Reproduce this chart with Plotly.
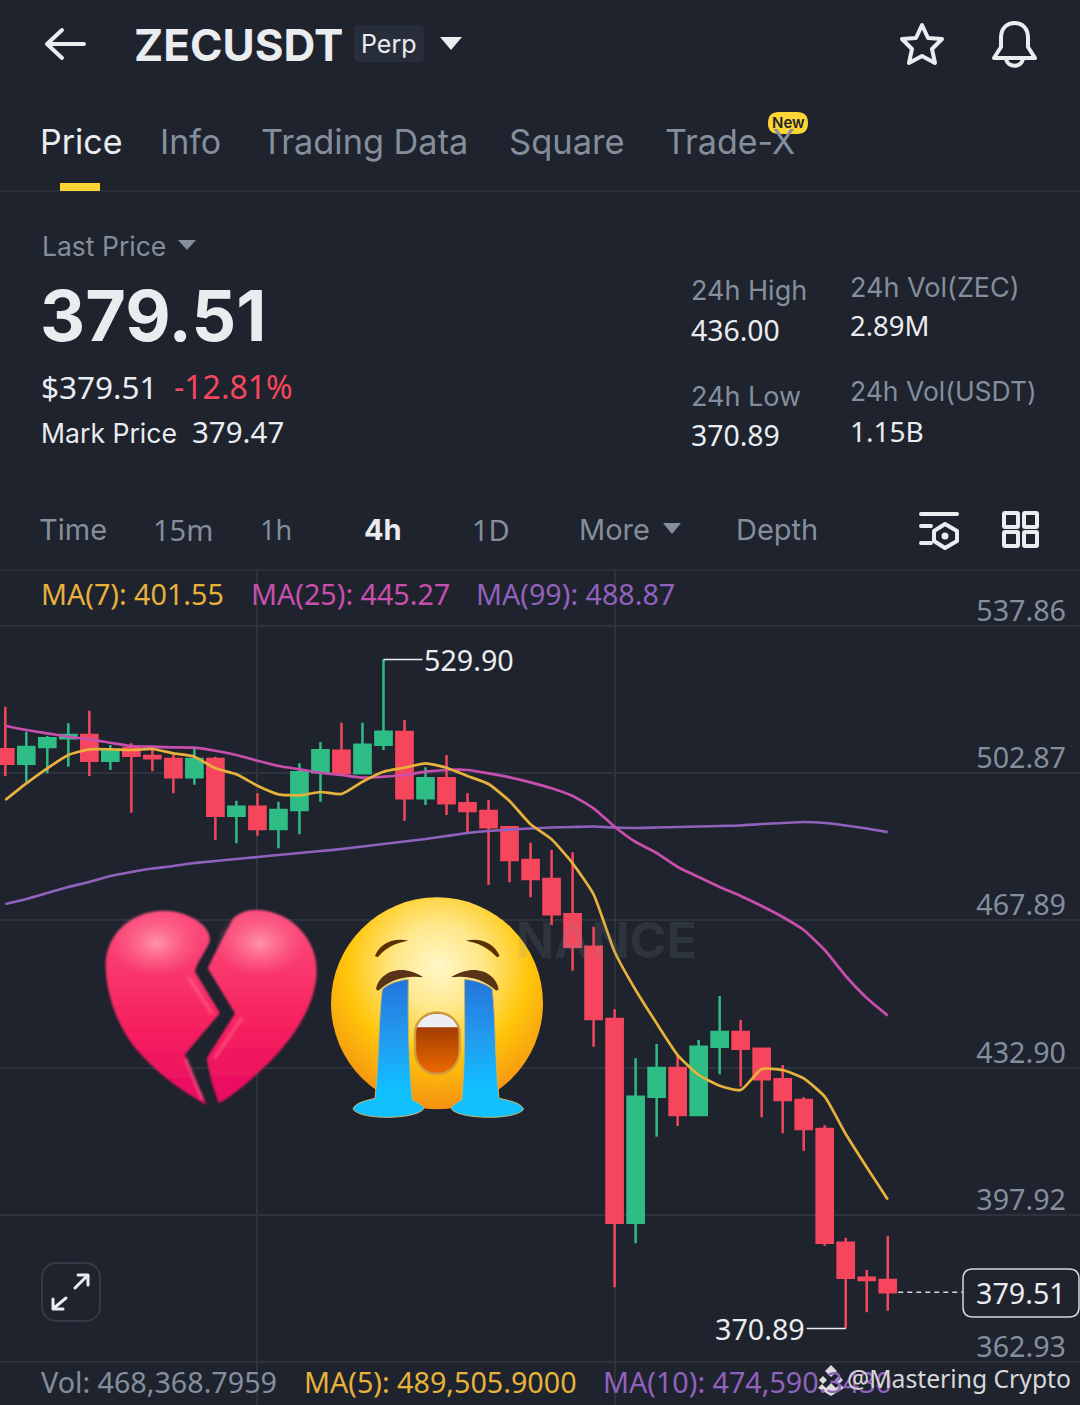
import base64
import plotly.graph_objects as go

W, H = 1080, 1405
BG = "#1e232d"
GRID = "#2d323d"
LIGHT = "#eaecef"
GRAY = "#848e9c"
GREEN = "#2ebd85"
RED = "#f6465d"
YELLOW = "#e8b13b"
PINK = "#c94fae"
PURPLE = "#9162bd"
UI_FONT = "Inter"
NUM_FONT = "Noto Sans"

# candles, oldest first
open_prices = [508.56, 505.13, 509.10, 511.17, 511.95, 505.85, 508.79, 506.96, 506.25, 501.90,
               506.25, 492.77, 494.91, 489.61, 494.13, 503.09, 508.22, 502.85, 509.65, 512.67,
               496.91, 501.66, 495.72, 493.89, 490.02, 482.25, 477.73, 469.34, 461.64, 444.46,
               396.04, 425.99, 432.81, 421.64, 437.87, 441.37, 437.40, 430.12, 425.20, 418.31,
               391.29, 382.97, 382.42]
high_prices = [518.68, 512.74, 511.72, 514.73, 517.73, 509.58, 509.98, 508.79, 507.20, 509.17,
               506.80, 496.34, 498.10, 496.10, 505.23, 510.29, 514.88, 514.88, 529.90, 515.52,
               504.28, 507.20, 498.10, 496.51, 490.16, 486.36, 484.62, 484.08, 466.39, 446.76,
               435.12, 438.51, 435.90, 439.46, 449.92, 444.22, 437.40, 433.52, 425.85, 419.19,
               392.48, 384.80, 392.88]
low_prices = [502.21, 500.85, 502.85, 504.42, 502.21, 503.64, 493.49, 503.33, 498.10, 500.14,
              487.00, 486.21, 488.02, 485.03, 488.35, 496.10, 502.45, 502.60, 508.39, 491.59,
              495.32, 492.94, 488.73, 476.30, 476.95, 473.38, 466.80, 455.94, 437.87, 380.69,
              391.15, 416.48, 419.02, 421.40, 431.31, 428.37, 421.09, 417.29, 413.15, 390.58,
              370.89, 374.75, 375.13]
close_prices = [505.13, 509.10, 511.17, 511.95, 505.85, 508.39, 507.03, 506.42, 501.90, 506.25,
                492.77, 494.91, 489.61, 494.13, 503.09, 508.32, 502.85, 509.65, 512.74, 496.91,
                501.66, 495.72, 493.89, 490.02, 482.25, 477.73, 469.34, 461.64, 444.46, 396.04,
                425.99, 432.81, 421.64, 437.87, 441.37, 437.40, 430.12, 425.20, 418.31, 391.29,
                382.97, 382.42, 379.51]
ma7 = [496.51, 500.47, 504.04, 507.20, 508.56, 508.56, 508.39, 508.63, 507.60, 506.80,
       504.04, 502.61, 499.90, 497.86, 497.62, 498.41, 497.93, 500.85, 503.23, 504.18,
       505.23, 504.18, 502.21, 500.31, 496.27, 490.73, 487.16, 481.46, 474.09, 460.45,
       451.35, 443.44, 435.90, 431.15, 428.60, 427.58, 432.57, 432.33, 430.36, 425.99,
       417.12, 409.21, 401.55]
ma25 = [514.16, 513.14, 512.36, 511.55, 510.93, 510.12, 509.34, 509.17, 509.03, 508.94,
        508.22, 507.20, 505.85, 504.59, 503.80, 502.99, 502.45, 501.81, 502.04, 502.45,
        503.23, 503.64, 503.64, 502.85, 501.90, 500.71, 499.29, 497.46, 494.53, 490.16,
        486.52, 483.91, 480.58, 478.20, 475.83, 473.69, 471.31, 468.70, 465.61, 460.85,
        454.68, 449.45, 445.27]
ma99 = [471.79, 472.98, 474.40, 475.83, 477.02, 478.44, 479.39, 480.23, 480.82, 481.53,
        482.01, 482.48, 482.96, 483.43, 483.91, 484.38, 484.86, 485.45, 486.05, 486.64,
        487.24, 487.95, 488.66, 489.14, 489.49, 489.73, 489.97, 490.09, 490.21, 489.97,
        489.85, 489.97, 490.09, 490.21, 490.33, 490.45, 490.80, 491.04, 491.28, 491.04,
        490.45, 489.73, 488.87]
candle_idx = list(range(len(open_prices)))
price_ticks = [537.86, 502.87, 467.89, 432.90, 397.92, 362.93]
time_ticks = [12, 29]
last_price = 379.51


def px(x):
    return x / W


def py(y):
    return 1 - y / H


def svg_uri(svg):
    return "data:image/svg+xml;base64," + base64.b64encode(svg.encode()).decode()


def picture(svg, x, y, w, h):
    return dict(source=svg_uri(svg), xref="paper", yref="paper", x=px(x), y=py(y),
                sizex=w / W, sizey=h / H, xanchor="left", yanchor="top",
                sizing="stretch", layer="above")


def label(txt, x, y, size, color=LIGHT, anchor="left", family=UI_FONT, weight=400):
    # glyphs sit about 2px right of the box edge
    if anchor == "left":
        x = x - 2
    # noto sits a bit low
    if family == NUM_FONT:
        y = y - 2
    return dict(text=txt, xref="paper", yref="paper", x=px(x), y=py(y), showarrow=False,
                xanchor=anchor, yanchor="middle", borderpad=0,
                font=dict(family=family, size=size, color=color, weight=weight))


def box(x0, y0, x1, y1, fill, line_color=None, r=0):
    path = (f"M{px(x0 + r)},{py(y0)} L{px(x1 - r)},{py(y0)} Q{px(x1)},{py(y0)} {px(x1)},{py(y0 + r)} "
            f"L{px(x1)},{py(y1 - r)} Q{px(x1)},{py(y1)} {px(x1 - r)},{py(y1)} "
            f"L{px(x0 + r)},{py(y1)} Q{px(x0)},{py(y1)} {px(x0)},{py(y1 - r)} "
            f"L{px(x0)},{py(y0 + r)} Q{px(x0)},{py(y0)} {px(x0 + r)},{py(y0)} Z")
    return dict(type="path", xref="paper", yref="paper", path=path, fillcolor=fill,
                line=dict(color=line_color or fill, width=1.5 if line_color else 0))


def rule(y):
    return dict(type="line", xref="paper", yref="paper", x0=0, x1=1, y0=py(y), y1=py(y),
                line=dict(color=GRID, width=1.5))


heart_svg = """<svg xmlns="http://www.w3.org/2000/svg" viewBox="0 0 690 690">
<defs>
<linearGradient id="b" x1="0" y1="0" x2="0" y2="1"><stop offset="0" stop-color="#fb4f7e"/><stop offset="0.6" stop-color="#f7205f"/><stop offset="1" stop-color="#e80a62"/></linearGradient>
<radialGradient id="g" cx="0.5" cy="0.5" r="0.5"><stop offset="0" stop-color="#ff9aa8" stop-opacity="0.95"/><stop offset="1" stop-color="#ff6f90" stop-opacity="0"/></radialGradient>
<filter id="s"><feGaussianBlur stdDeviation="5"/></filter>
<filter id="e"><feGaussianBlur stdDeviation="2.5"/></filter>
</defs>
<g filter="url(#e)">
<path fill="url(#b)" d="M200 62 C270 60 345 100 345 150 C340 175 305 215 300 245 L375 370 C340 410 290 470 270 495 C290 550 320 610 335 645 C270 610 150 530 90 430 C50 360 30 280 32 215 C40 120 120 65 200 62 Z"/>
<path fill="url(#b)" d="M480 60 C590 60 665 150 665 240 C665 340 600 440 520 520 C470 570 410 620 372 640 C355 600 340 540 335 505 L420 370 L338 235 C360 190 395 120 415 85 C430 70 455 60 480 60 Z"/>
</g>
<ellipse cx="185" cy="160" rx="135" ry="100" fill="url(#g)"/>
<ellipse cx="495" cy="160" rx="135" ry="100" fill="url(#g)"/>
<path filter="url(#s)" d="M280 262 L352 372 M272 505 L322 630 M442 382 L358 505" stroke="#ff7f96" stroke-width="9" fill="none" opacity="0.5"/>
</svg>"""

cry_svg = """<svg xmlns="http://www.w3.org/2000/svg" viewBox="0 0 690 705">
<defs>
<radialGradient id="f" gradientUnits="userSpaceOnUse" cx="340" cy="230" r="440"><stop offset="0" stop-color="#fff8c8"/><stop offset="0.3" stop-color="#ffe788"/><stop offset="0.62" stop-color="#ffc60a"/><stop offset="1" stop-color="#f48d12"/></radialGradient>
<linearGradient id="t" gradientUnits="userSpaceOnUse" x1="0" y1="270" x2="0" y2="600"><stop offset="0" stop-color="#2374dc"/><stop offset="0.5" stop-color="#2399ee"/><stop offset="1" stop-color="#10c0ff"/></linearGradient>
<linearGradient id="m" x1="0" y1="0" x2="0" y2="1"><stop offset="0" stop-color="#8a2f00"/><stop offset="1" stop-color="#ee6a00"/></linearGradient>
</defs>
<circle cx="336" cy="340" r="318" fill="url(#f)"/>
<path fill="#5a3200" d="M150 198 C165 160 205 142 250 152 C210 158 180 175 158 202 Z M524 198 C508 160 468 142 422 152 C462 158 492 175 516 202 Z"/>
<path fill="#5a3418" d="M153 298 C160 250 225 215 295 262 C240 255 195 270 160 302 Z M521 298 C514 250 450 215 378 262 C432 255 478 270 514 302 Z"/>
<path fill="url(#t)" stroke="#c9b56a" stroke-width="3" d="M172 298 C190 280 225 270 250 268 C248 400 252 530 262 630 C285 640 300 650 295 658 C270 688 110 692 84 658 C88 638 130 630 150 625 C162 520 160 390 172 298 Z"/>
<path fill="url(#t)" stroke="#c9b56a" stroke-width="3" d="M502 298 C484 280 445 270 418 268 C420 400 420 530 410 630 C390 640 376 650 380 658 C405 688 570 692 596 658 C590 638 545 630 522 625 C510 520 512 390 502 298 Z"/>
<path fill="url(#m)" stroke="#d39b3c" stroke-width="7" d="M270 430 C270 395 300 367 336 367 C372 367 404 395 404 430 L404 480 C404 525 372 552 336 552 C300 552 270 525 270 480 Z"/>
<path fill="#eceef2" d="M276 412 C285 385 310 371 336 371 C364 371 388 385 398 412 Z"/>
</svg>"""

icons_svg = """<svg xmlns="http://www.w3.org/2000/svg" viewBox="0 0 1080 1405">
<g fill="none" stroke="#eaecef" stroke-width="4" stroke-linecap="round" stroke-linejoin="round">
<path d="M84 44 H47 M62 30 L47 44 L62 58"/>
<path d="M922 25 L928 38 L942 39 L932 49 L935 63 L922 56 L909 63 L912 49 L902 39 L916 38 Z"/>
<path d="M994 58 L1001 47 L1001 38 C1001 27 1008 23 1014.5 23 C1021 23 1028 27 1028 38 L1028 47 L1035 58 Z M1006 59 C1008 68 1021 68 1023 59"/>
<path d="M921 514 H957 M921 526 H931 M921 543 H931"/>
<path d="M945 524 L957 531 L957 541 L945 548 L934 541 L934 531 Z"/>
<rect x="1004" y="513" width="14" height="14" rx="1"/><rect x="1024" y="513" width="13" height="14" rx="1"/>
<rect x="1004" y="532" width="14" height="14" rx="1"/><rect x="1024" y="532" width="13" height="14" rx="1"/>
<path stroke-width="3" d="M75 1288 L87 1276 M78 1275 H88 V1285 M66 1298 L54 1308 M53 1299 V1309 H63"/>
</g>
<circle cx="945" cy="536" r="3.5" fill="#eaecef"/>
<path fill="#eaecef" d="M440 37 H462 L451 50 Z"/>
<path fill="#848e9c" d="M178 240 H196 L187 250 Z M663 523 H681 L672 534 Z"/>
<rect x="42" y="1263" width="58" height="58" rx="14" fill="none" stroke="#343a46" stroke-width="2"/>
<g fill="#dcdcdc"><path d="M831 1365 L837 1371 L831 1377 L825 1371 Z M819 1380 L823 1376 L827 1380 L823 1384 Z M835 1380 L839 1376 L843 1380 L839 1384 Z"/><path d="M831 1383 L836 1388 L840 1384 L844 1388 L831 1396 L818 1388 L822 1384 L826 1388 Z"/></g>
</svg>"""

fig = go.Figure()
fig.add_trace(go.Candlestick(x=candle_idx, open=open_prices, high=high_prices, low=low_prices,
                             close=close_prices, whiskerwidth=0, showlegend=False, hoverinfo="skip",
                             increasing=dict(line=dict(color=GREEN, width=2.5), fillcolor=GREEN),
                             decreasing=dict(line=dict(color=RED, width=2.5), fillcolor=RED)))
for values, color in [(ma99, PURPLE), (ma25, PINK), (ma7, YELLOW)]:
    fig.add_trace(go.Scatter(x=candle_idx, y=values, mode="lines", showlegend=False, hoverinfo="skip",
                             line=dict(color=color, width=2.7, shape="spline", smoothing=0.5)))

shapes = [
    rule(191), rule(570),
    box(60, 183, 100, 191, "#fcd535"),
    box(354, 25, 424, 62, "#282e39", r=5),
    box(768, 112, 808, 134, "#fcd535", r=11),
    dict(type="line", xref="x", yref="y", x0=candle_idx[-1] + 0.5, x1=45.6, y0=last_price, y1=last_price,
         line=dict(color="#d5d7da", width=1.5, dash="5px,4px")),
    box(963, 1269, 1079, 1317, BG, "#d5d7da", r=10),
]

annotations = [
    label("ZECUSDT", 135, 45, 44, weight=700),
    label("Perp", 362, 44, 25),
    label("Price", 41, 142, 34),
    label("Info", 161, 142, 34, GRAY),
    label("Trading Data", 262, 142, 34.3, GRAY),
    label("Square", 510, 142, 34.5, GRAY),
    label("Trade-X", 666, 142, 34, GRAY),
    label("New", 788, 123, 15, "#1e232d", anchor="center", weight=600),
    label("Last Price", 43, 246, 26.5, GRAY),
    label(f"{last_price:.2f}", 41, 315, 70, weight=700),
    label(f"${last_price:.2f}", 42, 388, 31.5, family=NUM_FONT),
    label("-12.81%", 175, 388, 32, RED, family=NUM_FONT),
    label("Mark Price", 42, 433, 26.6),
    label("379.47", 193, 433, 29.5, family=NUM_FONT),
    label("24h High", 692, 291, 27, GRAY),
    label("436.00", 692, 332, 28.4, family=NUM_FONT),
    label("24h Low", 692, 396, 27, GRAY),
    label("370.89", 692, 437, 28.4, family=NUM_FONT),
    label("24h Vol(ZEC)", 851, 287, 27, GRAY),
    label("2.89M", 851, 328, 27.5, family=NUM_FONT),
    label("24h Vol(USDT)", 851, 391, 26.5, GRAY),
    label("1.15B", 851, 433, 28, family=NUM_FONT),
    label("Time", 40, 529, 29, GRAY),
    label("15m", 154, 531, 29, GRAY, family=NUM_FONT),
    label("1h", 261, 531, 27, GRAY, family=NUM_FONT),
    label("4h", 365, 529, 29, weight=700),
    label("1D", 473, 531, 29, GRAY, family=NUM_FONT),
    label("More", 580, 529, 29, GRAY),
    label("Depth", 737, 529, 29, GRAY),
    label("MA(7): 401.55", 42, 595, 28.7, YELLOW, family=NUM_FONT),
    label("MA(25): 445.27", 252, 595, 28.7, PINK, family=NUM_FONT),
    label("MA(99): 488.87", 477, 595, 28.7, PURPLE, family=NUM_FONT),
    label("NANCE", 517, 940, 50, "rgba(132,142,156,0.16)", family=UI_FONT, weight=700),
    label(f"{last_price:.2f}", 1021, 1294, 28.7, anchor="center", family=NUM_FONT),
    label("Vol: 468,368.7959", 42, 1383, 28.7, GRAY, family=NUM_FONT),
    label("MA(5): 489,505.9000", 305, 1383, 28.7, YELLOW, family=NUM_FONT),
    label("MA(10): 474,590.3430", 604, 1383, 28.7, PURPLE, family=NUM_FONT),
    label("@Mastering Crypto", 1072, 1380, 24.7, "#d8d8d8", anchor="right", family=NUM_FONT),
    dict(x=candle_idx[18], y=max(high_prices), text=f"{max(high_prices):.2f}", ax=39, ay=0, xanchor="left",
         arrowhead=0, arrowwidth=1.5, arrowcolor=LIGHT, standoff=0, font=dict(family=NUM_FONT, size=28.7, color=LIGHT)),
    dict(x=candle_idx[40], y=min(low_prices), text=f"{min(low_prices):.2f}", ax=-39, ay=0, xanchor="right",
         arrowhead=0, arrowwidth=1.5, arrowcolor=LIGHT, standoff=0, font=dict(family=NUM_FONT, size=28.7, color=LIGHT)),
]

fig.update_layout(
    width=W, height=H, margin=dict(l=0, r=0, t=0, b=0),
    paper_bgcolor=BG, plot_bgcolor=BG, boxgap=0.23, boxgroupgap=0, showlegend=False,
    shapes=shapes, annotations=annotations,
    images=[picture(heart_svg, 95, 890, 230, 230), picture(cry_svg, 325, 890, 230, 235),
            picture(icons_svg, 0, 0, W, H)],
    xaxis=dict(range=[-0.252, 51.15], tickvals=time_ticks, showticklabels=False, ticks="", showgrid=True,
               gridcolor=GRID, gridwidth=1.5, zeroline=False, showline=False, rangeslider=dict(visible=False)),
    yaxis=dict(domain=[0, py(570)], range=[352.72, 551.17], side="right", tickvals=price_ticks,
               ticktext=[f"{v:.2f}" for v in price_ticks], ticklabelposition="inside top", ticks="",
               ticklabelstandoff=11, ticklabelshift=5, tickfont=dict(family=NUM_FONT, size=28.7, color=GRAY),
               showgrid=True, gridcolor=GRID, gridwidth=1.5, zeroline=False, showline=False),
)

fig.write_html("out.html", config=dict(displayModeBar=False), post_script="document.body.style.margin='0';")
